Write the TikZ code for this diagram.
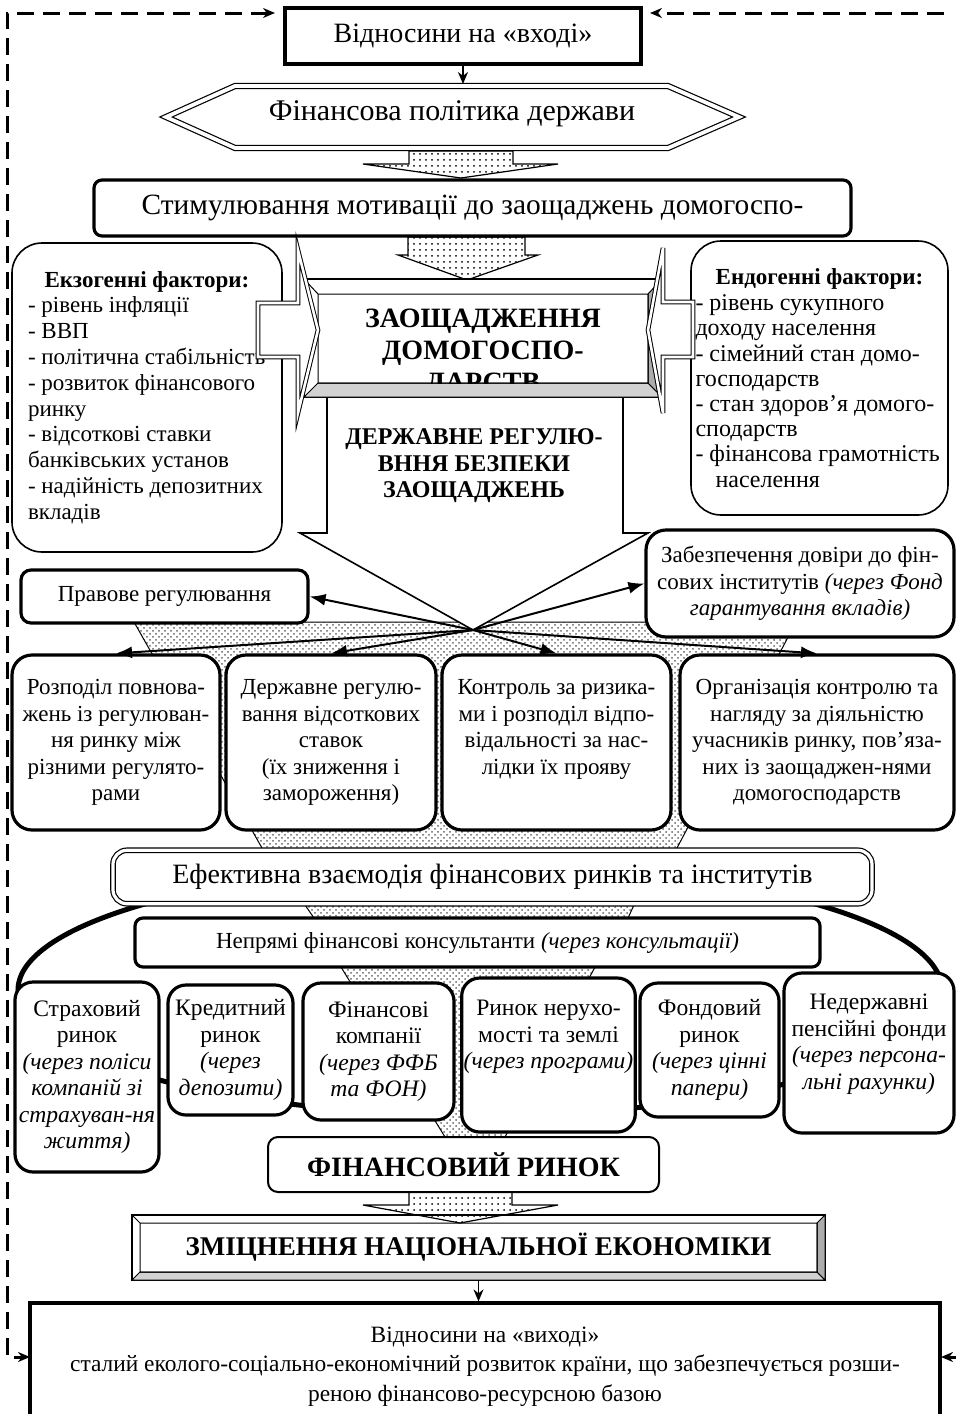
\documentclass[tikz,border=0pt]{standalone}
\usepackage{fontspec}
\setmainfont{Liberation Serif}
\usetikzlibrary{patterns,arrows.meta}

\begin{document}
\begin{tikzpicture}[x=0.5pt,y=-0.5pt,>={Stealth[length=6pt,width=5pt]},
    thick box/.style={draw,line width=1.6pt,fill=white,inner sep=1pt,align=center},
    round box/.style={thick box,rounded corners=9pt},
    factor box/.style={draw,line width=0.8pt,fill=white,rounded corners=15pt,inner sep=0pt,align=left,font=\fontsize{11.5}{12.9}\selectfont},
    dot arrow/.style={draw,line width=0.6pt,pattern=dots},
    side arrow/.style={draw,double,double distance=1.3pt,line width=0.5pt,fill=white},
    band light/.style={draw,line width=0.5pt,fill=gray!35},
    band dark/.style={draw,line width=0.5pt,fill=gray!65},
    small text/.style={font=\fontsize{11.5}{13.25}\selectfont},
    big text/.style={font=\fontsize{14.7}{18}\selectfont},
    rule box/.style={round box,rounded corners=10pt,small text,minimum height=87.5pt},
    market box/.style={round box,font=\fontsize{11.8}{13.25}\selectfont},
    link/.style={->,line width=1pt,>={Latex[length=8pt,width=6pt]}},
    loop line/.style={line width=1.5pt,dash pattern=on 8.5pt off 4.5pt}]

    \useasboundingbox (0,0) rectangle (956,1414);
    \fill[white] (0,0) rectangle (956,1414);

    \coordinate (inL) at (275,13);
    \coordinate (inR) at (650,13);
    \coordinate (loopR) at (944,13);
    \coordinate (outL) at (30,1357);
    \coordinate (outR) at (941,1357);
    \coordinate (loopRb) at (964,1357);
    \coordinate (politN) at (463,84);
    \coordinate (conv) at (473,630);

    % background: ring of markets and the funnel
    \draw[line width=2.5pt] (480,990) ellipse [x radius=231pt, y radius=62.5pt];
    \draw[line width=0.5pt,preaction={fill=white},pattern=crosshatch dots,pattern color=black!60]
        (134,622) -- (796,622) -- (677,848) -- (634,905) -- (628,918) -- (595,967) -- (505,1137)
        -- (445,1137) -- (341,967) -- (314,918) -- (305,905) -- (262,848) -- cycle;
    \draw[line width=0.8pt,fill=white] (327,390) -- (623,390) -- (623,533) -- (648,533)
        -- (473,630) -- (300,533) -- (327,533) -- cycle;
    \node[font=\bfseries\fontsize{12}{13.25}\selectfont,align=center] (regT) at (474,466)
        {ДЕРЖАВНЕ РЕГУЛЮ-\\ВННЯ БЕЗПЕКИ\\ЗАОЩАДЖЕНЬ};

    % input
    \node[thick box,minimum width=178pt,minimum height=28pt,font=\fontsize{14}{17}\selectfont] (vhid) at (463,36) {Відносини на «вході»};
    \draw[double,double distance=1.9pt,line width=0.6pt,fill=white] (166,117) -- (235,86) -- (668,86)
        -- (739,117) -- (668,148) -- (235,148) -- cycle;
    \node[font=\fontsize{15}{18}\selectfont] (polit) at (452,114) {Фінансова політика держави};
    \draw[->,line width=0.8pt] (vhid.south) -- (politN);
    \draw[dot arrow] (409,151) -- (513,151) -- (513,164) -- (558,164) -- (461,178) -- (363,164) -- (409,164) -- cycle;

    \node[round box,rounded corners=4pt,minimum width=378.5pt,minimum height=28pt,big text] (stym) at (472.5,208)
        {Стимулювання мотивації до заощаджень домогоспо-};
    \draw[dot arrow] (408,237) -- (525,237) -- (525,255) -- (538,255) -- (467,280) -- (398,255) -- (408,255) -- cycle;

    % factors
    \node[factor box,minimum width=135pt,minimum height=154.5pt] (exo) at (147,397.5)
        {\hbox to 119pt{\hss\textbf{Екзогенні фактори:}\hss}\\
         - рівень інфляції\\
         - ВВП\\
         - політична стабільність\\
         - розвиток фінансового\\
         ринку\\
         - відсоткові ставки\\
         банківських установ\\
         - надійність депозитних\\
         вкладів};
    \node[factor box,minimum width=128.5pt,minimum height=137pt,font=\fontsize{12}{12.6}\selectfont] (endo) at (819.5,378)
        {\hbox to 124pt{\hss\fontsize{11.5}{12.6}\selectfont\textbf{Ендогенні фактори:}\hss}\\[0.4pt]
         - рівень сукупного\\
         доходу населення\\
         - сімейний стан  домо-\\
         господарств\\
         - стан здоров'я домого-\\
         сподарств\\
         - фінансова грамотність\\
         \hspace*{10pt}населення};

    % savings of households
    \node[draw,line width=0.6pt,fill=white,minimum width=179pt,minimum height=59pt,inner sep=0pt] (zaoshch) at (483,338) {};
    \draw[band light] (304,397) -- (662,397) -- (648,383) -- (318,383) -- cycle;
    \draw[band dark] (662,279) -- (662,397) -- (648,383) -- (648,294) -- cycle;
    \draw[line width=0.5pt] (318,294) rectangle (648,383) (304,279) -- (318,294);
    \begin{scope}
        \clip (318,294) rectangle (648,383);
        \node[anchor=north,inner sep=0pt,align=center,font=\bfseries\fontsize{14}{16}\selectfont] (zaoshchT) at (483,309)
            {ЗАОЩАДЖЕННЯ\\ДОМОГОСПО-\\ДАРСТВ};
    \end{scope}
    \draw[side arrow] (258,303) -- (298,303) -- (298,250) -- (318,330) -- (298,413) -- (298,357) -- (258,357) -- cycle;
    \draw[side arrow] (693,302) -- (663,302) -- (663,248) -- (648,330) -- (663,413) -- (663,357) -- (693,357) -- cycle;

    % state regulation
    \node[round box,rounded corners=5pt,minimum width=143.5pt,minimum height=26.5pt,small text] (pravo) at (164.5,596.5) {Правове регулювання};
    \node[round box,rounded corners=10pt,minimum width=154pt,minimum height=53.5pt,small text] (dovira) at (800,583.5)
        {Забезпечення довіри до фін-\\сових інститутів \textit{(через Фонд}\\\textit{гарантування вкладів)}};

    \node[rule box,minimum width=104pt] (rozpod) at (116,742.5)
        {Розподіл повнова-\\жень із регулюван-\\ня ринку між\\різними регулято-\\рами};
    \node[rule box,minimum width=105pt] (stavky) at (331,742.5)
        {Державне регулю-\\вання відсоткових\\ставок\\(їх зниження і\\замороження)};
    \node[rule box,minimum width=114.5pt] (ryzyk) at (556.5,742.5)
        {Контроль за ризика-\\ми і розподіл відпо-\\відальності за нас-\\лідки їх прояву\\[2.25pt]~};
    \node[rule box,minimum width=137pt] (nahlyad) at (817,742.5)
        {Організація контролю та\\нагляду за діяльністю\\учасників ринку, пов'яза-\\них  із заощаджен-нями\\домогосподарств};

    \draw[link] (conv) -- (pravo.east);
    \draw[link] (conv) -- (dovira.west);
    \draw[link] (conv) -- (rozpod.north);
    \draw[link] (conv) -- (stavky.north);
    \draw[link] (conv) -- (ryzyk.north);
    \draw[link] (conv) -- (nahlyad.north);

    % markets and institutions
    \node[draw,double,double distance=1.6pt,line width=0.6pt,fill=white,rounded corners=7pt,
        minimum width=379.5pt,minimum height=26.75pt,font=\fontsize{14}{16}\selectfont] (efekt) at (492.5,877)
        {Ефективна взаємодія фінансових ринків та інститутів};
    \node[round box,rounded corners=4pt,minimum width=342.5pt,minimum height=24.5pt,small text] (konsult) at (477.5,942.5)
        {Непрямі фінансові консультанти \textit{(через консультації)}};

    \node[market box,minimum width=72pt,minimum height=95pt] (strakh) at (87,1077)
        {Страховий\\ринок\\\textit{(через поліси}\\\textit{компаній зі}\\\textit{страхуван-ня}\\\textit{життя)}};
    \node[market box,minimum width=62.5pt,minimum height=65pt] (kredyt) at (230.5,1050)
        {Кредитний\\ринок\\\textit{(через}\\\textit{депозити)}};
    \node[market box,minimum width=75.5pt,minimum height=68.5pt] (kompan) at (378.5,1051.5)
        {Фінансові\\компанії\\\textit{(через ФФБ}\\\textit{та ФОН)}};
    \node[market box,minimum width=85.5pt,minimum height=77pt] (neruh) at (548.5,1055)
        {Ринок нерухо-\\мості та землі\\\textit{(через програми)}\\[7pt]~};
    \node[market box,minimum width=69.5pt,minimum height=67pt] (fond) at (709.5,1050)
        {Фондовий\\ринок\\\textit{(через цінні}\\\textit{папери)}};
    \node[market box,minimum width=85pt,minimum height=80pt] (pensii) at (869,1053)
        {Недержавні\\пенсійні фонди\\\textit{(через персона-}\\\textit{льні рахунки)}\\[-2pt]~};

    \node[draw,line width=1pt,fill=white,rounded corners=5pt,minimum width=195.5pt,minimum height=27.5pt,
        font=\bfseries\fontsize{14}{16}\selectfont] (finrynok) at (463.5,1164.5) {ФІНАНСОВИЙ РИНОК};

    % output
    \node[draw,line width=0.6pt,fill=white,minimum width=346.5pt,minimum height=32.5pt,
        font=\bfseries\fontsize{13.5}{16}\selectfont] (zmitsn) at (478.5,1247.5) {ЗМІЦНЕННЯ НАЦІОНАЛЬНОЇ ЕКОНОМІКИ};
    \draw[band light] (132,1280) -- (825,1280) -- (817,1272) -- (140,1272) -- cycle;
    \draw[band dark] (825,1215) -- (825,1280) -- (817,1272) -- (817,1223) -- cycle;
    \draw[line width=0.5pt] (140,1223) rectangle (817,1272) (132,1215) -- (140,1223);
    \draw[dot arrow] (409,1192) -- (512,1192) -- (512,1205) -- (558,1205) -- (460,1223) -- (363,1205) -- (409,1205) -- cycle;

    \node[thick box,minimum width=455pt,minimum height=63.5pt,font=\fontsize{11.7}{14.75}\selectfont] (vyhid) at (485,1366.5)
        {Відносини на «виході»\\сталий еколого-соціально-економічний розвиток країни, що забезпечується розши-\\реною фінансово-ресурсною базою};
    \draw[->,line width=0.8pt] (zmitsn.south) -- (vyhid.north -| zmitsn.south);

    % feedback loop
    \draw[loop line,<->] (inL) -- (7,13) -- (7,1357) -- (outL);
    \draw[loop line,->] (loopR) -- (inR);
    \draw[loop line,->] (loopRb) -- (outR);
\end{tikzpicture}
\end{document}
